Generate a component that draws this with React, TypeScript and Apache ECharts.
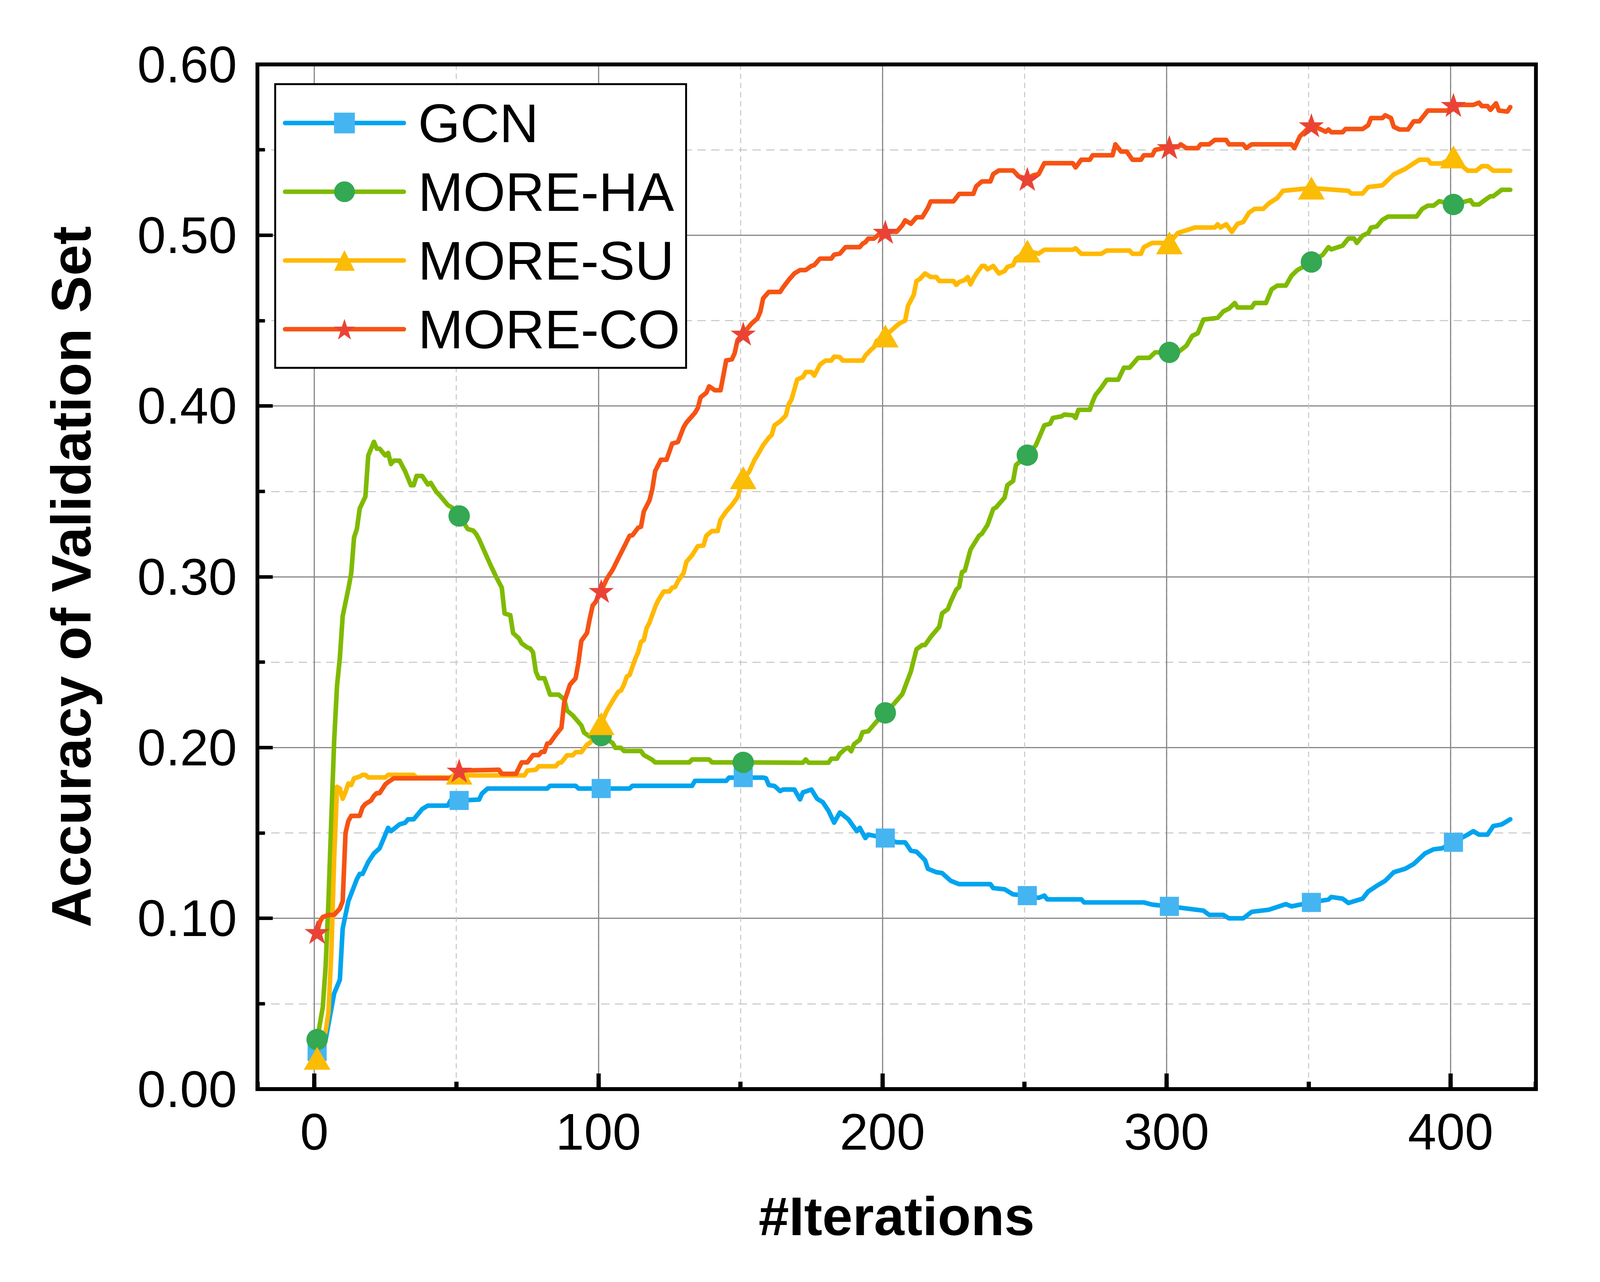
import React, { useEffect, useRef, useState } from "react";
import * as echarts from "echarts";

const FONT = "'Liberation Sans', Arial, Helvetica, sans-serif";
const BASE_W = 4288;
const BASE_H = 3283;

const seriesNames = ["GCN", "MORE-HA", "MORE-SU", "MORE-CO"];
const markerIters = [1, 51, 101, 151, 201, 251, 301, 351, 401];

const gcnData: [number, number][] = [
  [1, 0.022], [4, 0.029], [7, 0.056], [9, 0.064], [10, 0.094], [11, 0.102], [12, 0.11], [15, 0.123],
  [16, 0.126], [17, 0.126], [19, 0.133], [21, 0.138], [23, 0.141], [25, 0.149], [26, 0.153], [27, 0.151],
  [30, 0.155], [32, 0.156], [33, 0.158], [35, 0.158], [38, 0.164], [40, 0.166], [47, 0.166], [48, 0.169],
  [51, 0.169], [58, 0.1695], [59, 0.173], [61, 0.176], [82, 0.176], [83, 0.1776], [92, 0.1776], [93, 0.176],
  [101, 0.176], [111, 0.176], [112, 0.1776], [133, 0.1776], [134, 0.1805], [145, 0.1805], [146, 0.1824],
  [151, 0.1824], [158, 0.1824], [159, 0.182], [160, 0.178], [162, 0.1775], [164, 0.1745], [165, 0.1754],
  [169, 0.1754], [171, 0.1696], [172, 0.1737], [175, 0.1754], [177, 0.17], [179, 0.168], [181, 0.163],
  [183, 0.156], [185, 0.162], [188, 0.158], [191, 0.151], [192, 0.153], [194, 0.147], [195, 0.149],
  [201, 0.147], [205, 0.1445], [208, 0.1445], [210, 0.1396], [212, 0.139], [215, 0.134], [216, 0.129],
  [219, 0.127], [221, 0.1265], [224, 0.122], [227, 0.12], [238, 0.12], [239, 0.1177], [243, 0.117],
  [246, 0.114], [251, 0.1133], [255, 0.112], [257, 0.1133], [258, 0.1111], [270, 0.1111], [271, 0.1093],
  [292, 0.1093], [295, 0.108], [301, 0.107], [313, 0.1045], [315, 0.102], [320, 0.102], [322, 0.1],
  [327, 0.1], [330, 0.1038], [336, 0.105], [342, 0.1083], [344, 0.107], [351, 0.1093], [357, 0.111],
  [358, 0.1125], [362, 0.1115], [364, 0.109], [369, 0.1115], [371, 0.1157], [374, 0.119], [377, 0.122],
  [380, 0.127], [384, 0.129], [387, 0.1318], [391, 0.138], [394, 0.1404], [397, 0.141], [401, 0.1445],
  [406, 0.149], [408, 0.151], [410, 0.149], [413, 0.149], [415, 0.154], [418, 0.155], [421, 0.158],
];

const haData: [number, number][] = [
  [1, 0.029], [3, 0.048], [4, 0.072], [5, 0.11], [6, 0.158], [7, 0.204], [8, 0.236], [9, 0.2525],
  [10, 0.277], [12, 0.293], [13, 0.302], [14, 0.323], [15, 0.328], [16, 0.34], [18, 0.347], [19, 0.371],
  [21, 0.379], [22, 0.375], [23, 0.375], [25, 0.371], [26, 0.3725], [27, 0.366], [28, 0.368], [30, 0.368],
  [32, 0.3617], [33, 0.3577], [34, 0.3536], [35, 0.3536], [36, 0.359], [38, 0.359], [40, 0.354], [41, 0.355],
  [43, 0.3496], [44, 0.348], [47, 0.342], [49, 0.34], [51, 0.3356], [54, 0.328], [56, 0.327], [57, 0.325],
  [58, 0.322], [60, 0.3145], [62, 0.307], [64, 0.3], [66, 0.2936], [67, 0.2785], [69, 0.2775], [70, 0.267],
  [72, 0.264], [73, 0.261], [75, 0.2586], [76, 0.258], [77, 0.2557], [78, 0.2444], [79, 0.2406], [81, 0.2406],
  [83, 0.231], [86, 0.231], [88, 0.2282], [89, 0.2216], [91, 0.2188], [94, 0.213], [95, 0.2087], [97, 0.2064],
  [101, 0.207], [105, 0.2027], [106, 0.1998], [108, 0.1998], [109, 0.198], [115, 0.198], [116, 0.1956],
  [117, 0.1947], [119, 0.1928], [120, 0.1913], [132, 0.1913], [133, 0.193], [139, 0.193], [140, 0.1913],
  [151, 0.1913], [172, 0.1911], [173, 0.193], [174, 0.1911], [181, 0.1911], [182, 0.1935], [184, 0.1935],
  [185, 0.1964], [187, 0.1993], [188, 0.1999], [189, 0.1978], [190, 0.202], [192, 0.2045], [193, 0.209],
  [195, 0.2095], [198, 0.2153], [201, 0.2203], [204, 0.2255], [207, 0.2313], [210, 0.2445], [212, 0.2576],
  [214, 0.26], [215, 0.26], [217, 0.2648], [220, 0.2707], [221, 0.2786], [223, 0.281], [224, 0.2853],
  [226, 0.2925], [227, 0.294], [228, 0.3027], [229, 0.3036], [231, 0.3159], [234, 0.324], [235, 0.3252],
  [237, 0.3304], [239, 0.3397], [240, 0.3406], [243, 0.3464], [244, 0.3537], [246, 0.3561], [247, 0.3654],
  [251, 0.3712], [254, 0.377], [257, 0.3887], [259, 0.3896], [260, 0.393], [263, 0.3939], [264, 0.395],
  [267, 0.3946], [268, 0.393], [269, 0.3978], [273, 0.3978], [274, 0.4026], [275, 0.4064], [277, 0.4106],
  [279, 0.4154], [283, 0.4154], [285, 0.4224], [287, 0.4224], [290, 0.4282], [294, 0.4282], [296, 0.4314],
  [301, 0.4314], [304, 0.4314], [307, 0.4353], [309, 0.441], [311, 0.4426], [313, 0.4506], [318, 0.4516],
  [320, 0.4554], [322, 0.457], [324, 0.4603], [325, 0.4577], [330, 0.4577], [331, 0.4603], [335, 0.4603],
  [337, 0.4683], [339, 0.4705], [342, 0.4705], [344, 0.4763], [346, 0.4795], [351, 0.4843], [355, 0.4885],
  [357, 0.493], [358, 0.4917], [362, 0.4939], [364, 0.4981], [366, 0.4981], [367, 0.4955], [369, 0.4997],
  [371, 0.5013], [372, 0.5045], [374, 0.5051], [376, 0.509], [378, 0.5109], [388, 0.5109], [390, 0.5154],
  [392, 0.5173], [394, 0.5173], [396, 0.5199], [401, 0.518], [407, 0.5205], [408, 0.518], [410, 0.518],
  [412, 0.5205], [414, 0.5228], [415, 0.5228], [418, 0.5266], [421, 0.5266],
];

const suData: [number, number][] = [
  [1, 0.018], [3, 0.029], [4, 0.034], [5, 0.045], [6, 0.08], [7, 0.135], [8, 0.177], [9, 0.176],
  [10, 0.17], [11, 0.174], [12, 0.179], [13, 0.178], [14, 0.182], [16, 0.183], [17, 0.184], [18, 0.184],
  [19, 0.1825], [25, 0.1825], [26, 0.184], [35, 0.184], [36, 0.1825], [48, 0.1825], [51, 0.185],
  [54, 0.1837], [74, 0.1837], [75, 0.1865], [78, 0.187], [79, 0.189], [85, 0.189], [86, 0.191], [87, 0.1913],
  [89, 0.1955], [91, 0.1955], [92, 0.1973], [94, 0.1973], [96, 0.2017], [97, 0.2027], [99, 0.2064],
  [101, 0.214], [103, 0.2216], [105, 0.2273], [107, 0.2326], [108, 0.2334], [109, 0.2368], [110, 0.2415],
  [111, 0.2425], [113, 0.252], [114, 0.2557], [115, 0.2618], [116, 0.263], [117, 0.27], [118, 0.2732],
  [120, 0.2823], [121, 0.286], [123, 0.2914], [125, 0.2914], [126, 0.2936], [127, 0.294], [128, 0.2974],
  [130, 0.3022], [131, 0.3088], [133, 0.3126], [135, 0.3179], [137, 0.3183], [138, 0.324], [140, 0.3268],
  [142, 0.3268], [143, 0.3334], [145, 0.3382], [147, 0.342], [149, 0.3467], [151, 0.358], [153, 0.3612],
  [155, 0.3685], [156, 0.3712], [158, 0.377], [160, 0.3814], [161, 0.383], [162, 0.3887], [164, 0.391],
  [166, 0.3945], [167, 0.401], [168, 0.4038], [170, 0.4155], [172, 0.417], [173, 0.4199], [175, 0.4199],
  [176, 0.4178], [178, 0.4242], [180, 0.4266], [182, 0.4266], [183, 0.4289], [185, 0.4286], [186, 0.4266],
  [193, 0.4266], [194, 0.4295], [196, 0.433], [197, 0.4344], [198, 0.4382], [201, 0.441], [204, 0.4455],
  [206, 0.4484], [208, 0.45], [209, 0.4586], [211, 0.465], [212, 0.4732], [213, 0.4741], [215, 0.4776],
  [217, 0.4755], [219, 0.4755], [220, 0.4732], [225, 0.4732], [226, 0.4709], [227, 0.4726], [229, 0.4738],
  [230, 0.4755], [231, 0.4712], [232, 0.4746], [233, 0.4773], [235, 0.482], [236, 0.482], [237, 0.48],
  [239, 0.482], [241, 0.4776], [243, 0.479], [244, 0.4814], [246, 0.4825], [247, 0.4863], [251, 0.4907],
  [255, 0.4892], [257, 0.4915], [267, 0.4915], [268, 0.4923], [270, 0.4891], [277, 0.4891], [279, 0.491],
  [287, 0.491], [288, 0.4891], [291, 0.4891], [292, 0.493], [295, 0.4955], [301, 0.4955], [304, 0.5013],
  [310, 0.5045], [317, 0.5045], [318, 0.5064], [319, 0.5045], [321, 0.5064], [323, 0.5019], [325, 0.5067],
  [327, 0.5077], [329, 0.5131], [331, 0.5154], [334, 0.5154], [336, 0.5186], [339, 0.5218], [341, 0.526],
  [351, 0.5276], [364, 0.526], [365, 0.5244], [369, 0.5244], [371, 0.5282], [376, 0.5292], [378, 0.5324],
  [380, 0.5356], [384, 0.5388], [386, 0.541], [389, 0.5442], [392, 0.5442], [393, 0.542], [397, 0.542],
  [401, 0.5458], [403, 0.542], [406, 0.5378], [409, 0.5378], [411, 0.5404], [413, 0.5404], [415, 0.5378],
  [421, 0.5378],
];

const coData: [number, number][] = [
  [1, 0.092], [2, 0.098], [3, 0.1008], [5, 0.102], [7, 0.102], [9, 0.1057], [10, 0.11], [11, 0.15],
  [12, 0.157], [13, 0.16], [16, 0.16], [17, 0.165], [18, 0.167], [20, 0.169], [21, 0.1717], [22, 0.1733],
  [23, 0.1733], [25, 0.1784], [26, 0.1798], [28, 0.182], [48, 0.182], [51, 0.1865], [65, 0.187],
  [66, 0.1846], [71, 0.1846], [73, 0.1913], [75, 0.1913], [77, 0.1956], [79, 0.1956], [80, 0.1975],
  [81, 0.1975], [82, 0.2023], [83, 0.2027], [85, 0.2074], [87, 0.2116], [88, 0.2268], [90, 0.2368],
  [92, 0.2406], [93, 0.25], [94, 0.2624], [96, 0.2671], [97, 0.2756], [98, 0.2832], [99, 0.2851],
  [101, 0.2917], [103, 0.2989], [105, 0.304], [107, 0.3107], [109, 0.3173], [111, 0.324], [112, 0.3243],
  [114, 0.3287], [115, 0.3293], [116, 0.3382], [118, 0.3448], [119, 0.3514], [120, 0.3619], [122, 0.3685],
  [124, 0.3685], [126, 0.378], [128, 0.3789], [130, 0.3875], [131, 0.3903], [134, 0.396], [135, 0.3988],
  [136, 0.4051], [138, 0.4077], [139, 0.4115], [141, 0.4092], [143, 0.4092], [144, 0.4178], [145, 0.4267],
  [147, 0.4273], [148, 0.431], [149, 0.4386], [151, 0.4424], [154, 0.4484], [156, 0.4513], [157, 0.4551],
  [158, 0.463], [160, 0.4668], [164, 0.4668], [165, 0.4694], [167, 0.4738], [169, 0.4776], [171, 0.4796],
  [173, 0.4796], [175, 0.482], [176, 0.4825], [178, 0.4863], [182, 0.4863], [183, 0.4886], [185, 0.4892],
  [187, 0.493], [192, 0.493], [193, 0.495], [194, 0.4959], [195, 0.498], [197, 0.498], [199, 0.5009],
  [201, 0.502], [205, 0.502], [207, 0.5058], [208, 0.5087], [210, 0.5067], [212, 0.5105], [214, 0.5105],
  [216, 0.516], [217, 0.5198], [225, 0.5198], [227, 0.5242], [232, 0.5242], [233, 0.5286], [235, 0.5315],
  [238, 0.5315], [239, 0.5358], [241, 0.5379], [246, 0.5379], [248, 0.5344], [251, 0.533], [253, 0.535],
  [255, 0.5358], [257, 0.5422], [267, 0.5422], [268, 0.5397], [270, 0.5442], [273, 0.5442], [274, 0.5468],
  [281, 0.5468], [282, 0.5532], [284, 0.549], [286, 0.549], [288, 0.5442], [291, 0.5442], [292, 0.5468],
  [295, 0.5468], [296, 0.55], [301, 0.5516], [304, 0.5516], [305, 0.5532], [307, 0.551], [311, 0.551],
  [312, 0.5532], [315, 0.5532], [317, 0.5558], [321, 0.5558], [322, 0.5532], [327, 0.5532], [328, 0.551],
  [330, 0.5532], [344, 0.5532], [345, 0.551], [347, 0.558], [349, 0.5612], [351, 0.5644], [354, 0.5622],
  [356, 0.5606], [357, 0.5619], [358, 0.5603], [362, 0.5603], [363, 0.5622], [369, 0.5622], [371, 0.5644],
  [372, 0.5686], [376, 0.5686], [377, 0.5702], [379, 0.5686], [380, 0.5635], [382, 0.5619], [385, 0.5619],
  [387, 0.5667], [389, 0.5667], [392, 0.573], [399, 0.573], [401, 0.5763], [408, 0.5763], [410, 0.5776],
  [411, 0.5756], [413, 0.5756], [414, 0.5734], [416, 0.5772], [417, 0.573], [420, 0.5724], [421, 0.575],
];

const lineColors = ["#00A4EF", "#7FBA00", "#FFB900", "#F65314"];
const markColors = ["#45B5F2", "#34A853", "#FBBC05", "#EA4335"];

const STAR =
  "path://M50,0 L61.8,35.1 L98.9,35.1 L69.1,57 L80.9,92.7 L50,71 L19.1,92.7 L30.9,57 L1.1,35.1 L38.2,35.1 Z";

function buildSeries(
  name: string,
  data: [number, number][],
  symbol: string,
  symbolSize: number | number[],
  lineColor: string,
  markColor: string,
  s: number
) {
  const size = Array.isArray(symbolSize) ? symbolSize.map((v) => v * s) : symbolSize * s;
  return {
    name,
    type: "line",
    xAxisIndex: 0,
    yAxisIndex: 0,
    data: data.map(([x, y]) =>
      markerIters.includes(x) ? { value: [x, y] } : { value: [x, y], symbol: "none" }
    ),
    symbol,
    symbolSize: size,
    showSymbol: true,
    showAllSymbol: true,
    smooth: false,
    lineStyle: { color: lineColor, width: 12 * s, cap: "round", join: "round" },
    itemStyle: { color: markColor, borderWidth: 0 },
    emphasis: { disabled: true },
    z: 2,
  };
}

function buildOption(sx: number, sy: number) {
  const s = (sx + sy) / 2;
  const black = "#000000";
  const axisLineStyle = { color: black, width: 10 * s, cap: "square" };
  const tickFont = 134 * s;

  return {
    animation: false,
    backgroundColor: "#ffffff",
    textStyle: { fontFamily: FONT },
    grid: {
      left: 690 * sx,
      top: 165 * sy,
      right: (BASE_W - 4116) * sx,
      bottom: (BASE_H - 2789) * sy,
      containLabel: false,
      outerBoundsMode: "none",
    },
    legend: {
      orient: "vertical",
      left: 737.5 * sx,
      top: 215.5 * sy,
      itemWidth: 318 * sx,
      itemHeight: 68 * s,
      itemGap: 34 * sy,
      padding: [28.5 * sy, 16 * sx, 28 * sy, 20.5 * sx],
      backgroundColor: "#ffffff",
      borderColor: black,
      borderWidth: 5 * s,
      borderRadius: 0,
      selectedMode: false,
      lineStyle: { width: 12 * s, cap: "round" },
      textStyle: {
        fontFamily: FONT,
        fontSize: 142 * s,
        lineHeight: 142 * sy,
        color: black,
        padding: [0, 0, 0, 33 * sx],
      },
      data: seriesNames,
      z: 6,
    },
    xAxis: [
      {
        type: "value",
        position: "bottom",
        min: -20,
        max: 430,
        minInterval: 100,
        maxInterval: 100,
        z: 1,
        axisLine: { show: true, onZero: false, lineStyle: axisLineStyle },
        axisTick: { show: true, inside: true, length: 40 * sy, lineStyle: { color: black, width: 11 * s } },
        axisLabel: {
          show: true,
          margin: 44 * sy,
          fontSize: tickFont,
          color: black,
          fontFamily: FONT,
          showMinLabel: false,
          showMaxLabel: false,
          formatter: (v: number) => String(Math.round(v)),
        },
        splitLine: {
          show: true,
          showMinLine: false,
          showMaxLine: false,
          lineStyle: { color: "#888888", width: 3 * s, type: "solid" },
        },
        name: "#Iterations",
        nameLocation: "middle",
        nameGap: 255 * sy,
        nameMoveOverlap: false,
        nameTextStyle: { fontFamily: FONT, fontSize: 143 * s, fontWeight: "bold", color: black },
      },
      {
        type: "value",
        position: "bottom",
        min: -20,
        max: 430,
        minInterval: 50,
        maxInterval: 50,
        z: 0,
        axisLine: { show: false, onZero: false },
        axisTick: { show: true, inside: true, length: 19 * sy, lineStyle: { color: black, width: 11 * s } },
        axisLabel: { show: false },
        splitLine: {
          show: true,
          showMinLine: false,
          showMaxLine: false,
          lineStyle: { color: "#c4c4c4", width: 2.5 * s, type: [14 * s, 10 * s] },
        },
      },
      {
        type: "value",
        position: "top",
        min: -20,
        max: 430,
        z: 5,
        axisLine: { show: true, onZero: false, lineStyle: axisLineStyle },
        axisTick: { show: false },
        axisLabel: { show: false },
        splitLine: { show: false },
      },
    ],
    yAxis: [
      {
        type: "value",
        position: "left",
        min: 0,
        max: 0.6,
        interval: 0.1,
        z: 0,
        axisLine: { show: true, onZero: false, lineStyle: axisLineStyle },
        axisTick: { show: true, inside: true, length: 41 * sx, lineStyle: { color: black, width: 9 * s } },
        minorTick: { show: true, splitNumber: 2, length: 20 * sx, lineStyle: { color: black, width: 9 * s } },
        axisLabel: {
          show: true,
          margin: 55 * sx,
          fontSize: tickFont,
          color: black,
          fontFamily: FONT,
          formatter: (v: number) => v.toFixed(2),
        },
        splitLine: {
          show: true,
          showMinLine: false,
          showMaxLine: false,
          lineStyle: { color: "#888888", width: 3 * s, type: "solid" },
        },
        minorSplitLine: {
          show: true,
          lineStyle: { color: "#c4c4c4", width: 2.5 * s, type: [22 * s, 14 * s] },
        },
        name: "Accuracy of Validation Set",
        nameLocation: "middle",
        nameGap: 424 * sx,
        nameRotate: 90,
        nameMoveOverlap: false,
        nameTextStyle: { fontFamily: FONT, fontSize: 143 * sy, fontWeight: "bold", color: black },
      },
      {
        type: "value",
        position: "right",
        min: 0,
        max: 0.6,
        interval: 0.1,
        z: 5,
        axisLine: { show: true, onZero: false, lineStyle: axisLineStyle },
        axisTick: { show: false },
        axisLabel: { show: false },
        splitLine: { show: false },
      },
    ],
    series: [
      buildSeries(seriesNames[0], gcnData, "rect", 50, lineColors[0], markColors[0], s),
      buildSeries(seriesNames[1], haData, "circle", 56, lineColors[1], markColors[1], s),
      buildSeries(seriesNames[2], suData, "triangle", [70, 60], lineColors[2], markColors[2], s),
      buildSeries(seriesNames[3], coData, STAR, [66, 63], lineColors[3], markColors[3], s),
    ],
  };
}

export default function App() {
  const ref = useRef<HTMLDivElement>(null);
  const [size] = useState(() => ({
    w: typeof window !== "undefined" && window.innerWidth ? window.innerWidth : BASE_W,
    h: typeof window !== "undefined" && window.innerHeight ? window.innerHeight : BASE_H,
  }));

  useEffect(() => {
    if (!ref.current) return;
    const chart = echarts.init(ref.current, undefined, { renderer: "svg" });
    const sx = size.w / BASE_W;
    const sy = size.h / BASE_H;
    chart.setOption(buildOption(sx, sy) as any);
    return () => {
      chart.dispose();
    };
  }, [size]);

  return (
    <div
      ref={ref}
      style={{
        position: "absolute",
        left: 0,
        top: 0,
        width: size.w,
        height: size.h,
        background: "#fff",
      }}
    />
  );
}
